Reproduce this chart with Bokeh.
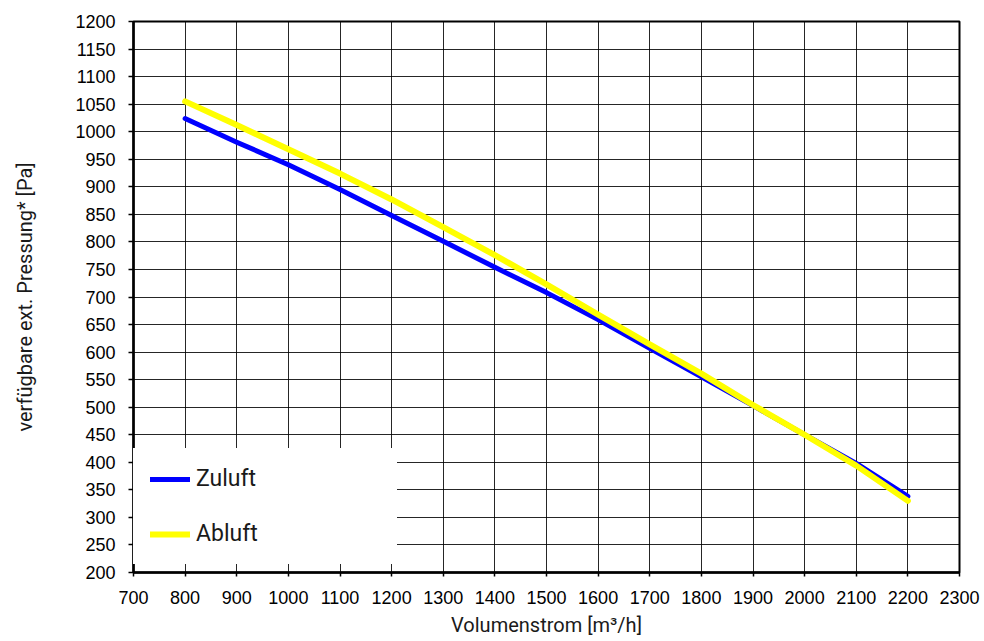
from bokeh.plotting import figure
from bokeh.models import FixedTicker, Legend, LegendItem
from bokeh.embed import file_html
from bokeh.resources import INLINE

# Data
flow = [800, 900, 1000, 1100, 1200, 1300, 1400, 1500, 1600, 1700, 1800, 1900, 2000, 2100, 2200]
zuluft = [1024, 981, 940, 895, 848, 801, 754, 708, 659, 607, 555, 503, 450, 398, 338]
abluft = [1055, 1012, 968, 924, 877, 827, 776, 723, 668, 614, 561, 504, 450, 394, 330]

x_ticks = list(range(700, 2301, 100))
y_ticks = list(range(200, 1201, 50))

x_title = "Volumenstrom [m³/h]"
y_title = "verfügbare ext. Pressung* [Pa]"

p = figure(
    frame_width=826, frame_height=551,
    x_range=(700, 2300), y_range=(200, 1200),
    output_backend="svg", toolbar_location=None,
    min_border_left=133, min_border_right=24,
    min_border_top=21, min_border_bottom=68,
    background_fill_color="white", border_fill_color="white",
)

r1 = p.line(flow, zuluft, line_color="#0000FF", line_width=5, line_cap="round", line_join="round")
r2 = p.line(flow, abluft, line_color="#FFFF00", line_width=6, line_cap="round", line_join="round")

p.xaxis.ticker = FixedTicker(ticks=x_ticks)
p.yaxis.ticker = FixedTicker(ticks=y_ticks)

for ax in (p.xaxis, p.yaxis):
    ax.major_label_text_font = "Liberation Sans"
    ax.major_label_text_font_size = "18px"
    ax.major_label_text_color = "black"
    ax.axis_line_color = "black"
    ax.axis_line_width = 2.5
    ax.major_tick_line_color = "black"
    ax.major_tick_line_width = 1.5
    ax.major_tick_in = 0
    ax.minor_tick_line_color = None
    ax.axis_label_text_font = "Roboto"
    ax.axis_label_text_font_size = "20px"
    ax.axis_label_text_font_style = "normal"
    ax.axis_label_text_color = "#1a1a1a"

p.xaxis.major_tick_out = 4
p.xaxis.major_label_standoff = 14
p.xaxis.axis_label = x_title
p.xaxis.axis_label_standoff = 6

p.yaxis.major_tick_out = 5
p.yaxis.major_label_standoff = 13
p.yaxis.axis_label = y_title
p.yaxis.axis_label_standoff = 35

p.grid.grid_line_color = "black"
p.grid.grid_line_alpha = 0.85
p.grid.grid_line_width = 1

p.outline_line_color = "black"
p.outline_line_width = 2
p.outline_line_alpha = 1

legend = Legend(
    items=[LegendItem(label="Zuluft", renderers=[r1]),
           LegendItem(label="Abluft", renderers=[r2])],
    location=(0, 8), padding=16, spacing=28, margin=0,
    glyph_width=40, glyph_height=20, label_height=20, label_width=184,
    label_standoff=6,
    label_text_font="Roboto", label_text_font_size="23px", label_text_color="#1a1a1a",
    border_line_color="white", border_line_width=1,
    background_fill_color="white", background_fill_alpha=1,
)
p.add_layout(legend)

open("out.html", "w").write(file_html(p, INLINE))
